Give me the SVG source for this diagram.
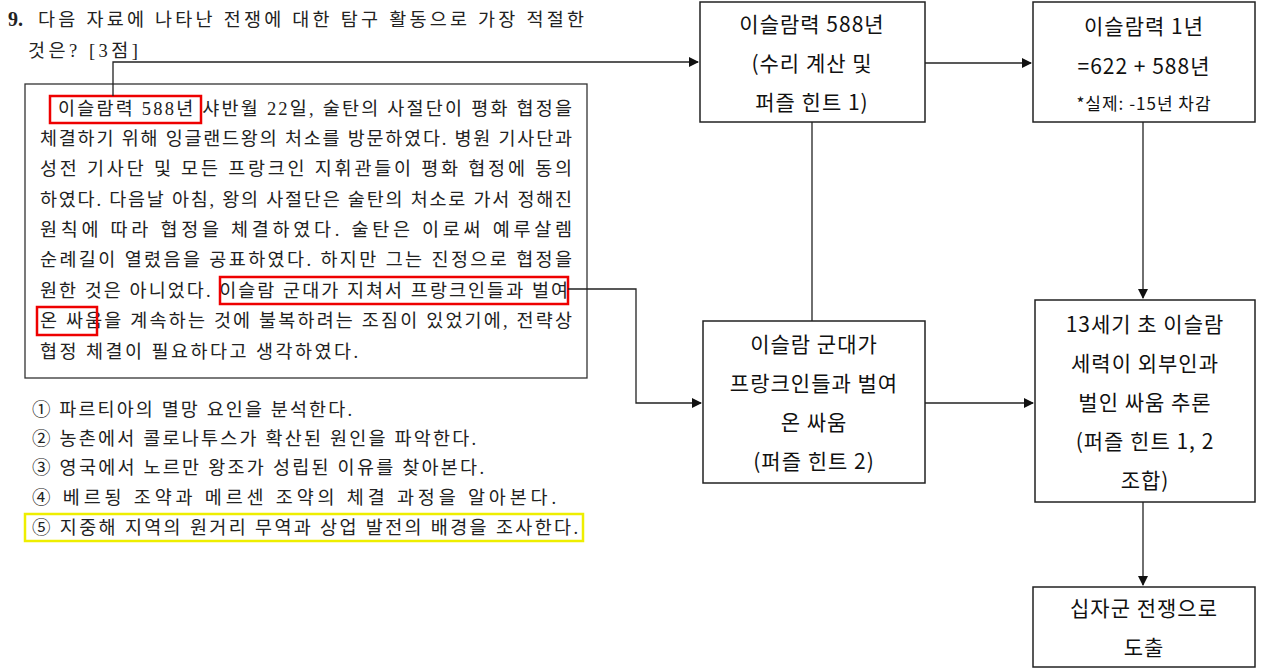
<svg xmlns="http://www.w3.org/2000/svg" width="1280" height="670" viewBox="0 0 1280 670">
<style>
.t{font-family:"Liberation Serif","Noto Sans CJK KR",serif;font-size:18.5px;fill:#222}
.n{font-family:"Noto Sans CJK KR","Noto Sans",sans-serif;font-size:21px;fill:#111;text-anchor:middle;letter-spacing:1px}
.box{fill:#fff;stroke:#222;stroke-width:1.5}
.red{fill:none;stroke:#e00;stroke-width:2.5}
.ln{fill:none;stroke:#222;stroke-width:1.3}
</style>
<defs><marker id="a" markerWidth="10" markerHeight="10" refX="9" refY="5" orient="auto" markerUnits="userSpaceOnUse"><path d="M0,0L10,5L0,10Z" fill="#111"/></marker></defs>
<rect width="1280" height="670" fill="#fff"/>
<g id="question">
<text class="t" x="8" y="26" style="font-weight:bold;font-size:20px">9.</text>
<text class="t" x="38" y="26" textLength="546">다음 자료에 나타난 전쟁에 대한 탐구 활동으로 가장 적절한</text>
<text class="t" x="28" y="57" textLength="110">것은? [3점]</text>
<rect x="25" y="84" width="562" height="294" fill="none" stroke="#333" stroke-width="1.3"/>
<text class="t" x="58" y="115" textLength="514">이슬람력 588년 샤반월 22일, 술탄의 사절단이 평화 협정을</text>
<text class="t" x="40" y="145" textLength="532">체결하기 위해 잉글랜드왕의 처소를 방문하였다. 병원 기사단과</text>
<text class="t" x="40" y="175" textLength="532">성전 기사단 및 모든 프랑크인 지휘관들이 평화 협정에 동의</text>
<text class="t" x="40" y="206" textLength="532">하였다. 다음날 아침, 왕의 사절단은 술탄의 처소로 가서 정해진</text>
<text class="t" x="40" y="236" textLength="532">원칙에 따라 협정을 체결하였다. 술탄은 이로써 예루살렘</text>
<text class="t" x="40" y="266" textLength="532">순례길이 열렸음을 공표하였다. 하지만 그는 진정으로 협정을</text>
<text class="t" x="40" y="297" textLength="528">원한 것은 아니었다. 이슬람 군대가 지쳐서 프랑크인들과 벌여</text>
<text class="t" x="40" y="327" textLength="532">온 싸움을 계속하는 것에 불복하려는 조짐이 있었기에, 전략상</text>
<text class="t" x="40" y="358" textLength="318">협정 체결이 필요하다고 생각하였다.</text>
<rect class="red" x="50" y="96" width="151" height="27"/>
<rect class="red" x="220" y="277" width="348" height="27"/>
<rect class="red" x="37" y="307" width="60" height="28"/>
<text class="t" x="32" y="416" textLength="320">① 파르티아의 멸망 요인을 분석한다.</text>
<text class="t" x="32" y="445" textLength="444">② 농촌에서 콜로나투스가 확산된 원인을 파악한다.</text>
<text class="t" x="32" y="474" textLength="452">③ 영국에서 노르만 왕조가 성립된 이유를 찾아본다.</text>
<text class="t" x="32" y="504" textLength="524">④ 베르됭 조약과 메르센 조약의 체결 과정을 알아본다.</text>
<text class="t" x="32" y="534" textLength="546">⑤ 지중해 지역의 원거리 무역과 상업 발전의 배경을 조사한다.</text>
<rect x="25" y="514" width="558" height="27" fill="none" stroke="#ee0" stroke-width="2.5"/>
</g>
<g id="connectors">
<path class="ln" d="M113,96V62H698" marker-end="url(#a)"/>
<path class="ln" d="M568,289H636V403H701" marker-end="url(#a)"/>
<path class="ln" d="M925,63H1031" marker-end="url(#a)"/>
<path class="ln" d="M812,122V321"/>
<path class="ln" d="M1143,122V298" marker-end="url(#a)"/>
<path class="ln" d="M925,403H1033" marker-end="url(#a)"/>
<path class="ln" d="M1143,502V585" marker-end="url(#a)"/>
</g>
<g id="nodeA"><rect class="box" x="700" y="2" width="225" height="120"/>
<text class="n" x="812" y="32">이슬람력 588년</text><text class="n" x="812" y="71">(수리 계산 및</text><text class="n" x="812" y="110">퍼즐 힌트 1)</text></g>
<g id="nodeB"><rect class="box" x="1033" y="2" width="222" height="120"/>
<text class="n" x="1144" y="34">이슬람력 1년</text><text class="n" x="1144" y="74">=622 + 588년</text><text class="n" x="1144" y="110" style="font-size:17px">*실제: -15년 차감</text></g>
<g id="nodeC"><rect class="box" x="703" y="321" width="222" height="162"/>
<text class="n" x="814" y="352">이슬람 군대가</text><text class="n" x="814" y="391">프랑크인들과 벌여</text><text class="n" x="814" y="430">온 싸움</text><text class="n" x="814" y="469">(퍼즐 힌트 2)</text></g>
<g id="nodeD"><rect class="box" x="1035" y="300" width="220" height="202"/>
<text class="n" x="1145" y="332">13세기 초 이슬람</text><text class="n" x="1145" y="371">세력이 외부인과</text><text class="n" x="1145" y="410">벌인 싸움 추론</text><text class="n" x="1145" y="449">(퍼즐 힌트 1, 2</text><text class="n" x="1145" y="488">조합)</text></g>
<g id="nodeE"><rect class="box" x="1033" y="587" width="222" height="80"/>
<text class="n" x="1144" y="616">십자군 전쟁으로</text><text class="n" x="1144" y="655">도출</text></g>
</svg>
